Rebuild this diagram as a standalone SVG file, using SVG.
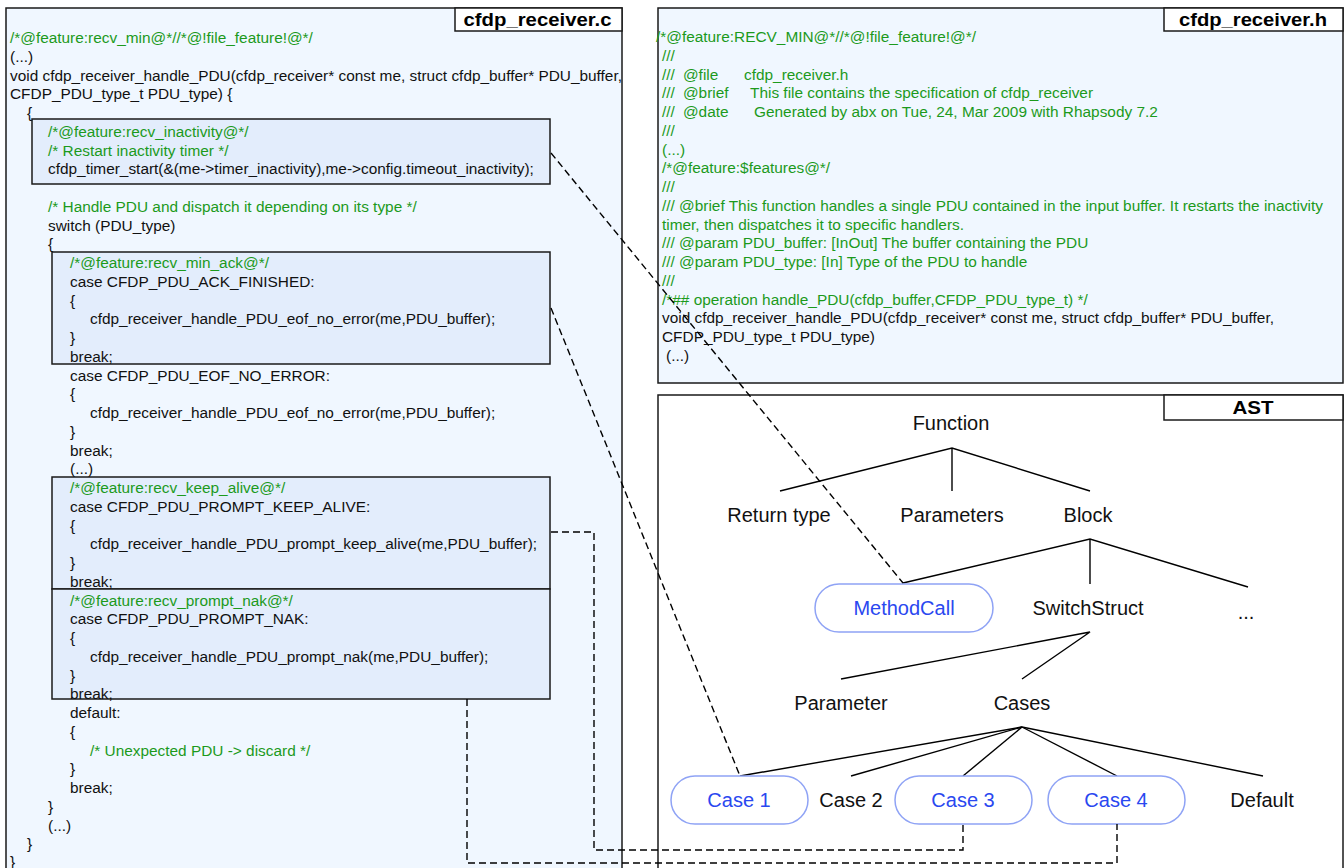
<svg xmlns="http://www.w3.org/2000/svg" width="1344" height="868" viewBox="0 0 1344 868">
  <style>
    .panel { fill: #F0F7FF; stroke: #1a1a1a; stroke-width: 1.5; }
    .ast { fill: #FFFFFF; stroke: #1a1a1a; stroke-width: 1.5; }
    .tab { fill: #FFFFFF; stroke: #1a1a1a; stroke-width: 1.5; }
    .blk { fill: #E3EDFC; stroke: #1a1a1a; stroke-width: 1.5; }
    .title { font-family: "Liberation Sans", Arial, Helvetica, sans-serif; font-weight: bold; font-size: 19px; fill: #000; text-anchor: middle; }
    .code { font-family: "Liberation Sans", Arial, Helvetica, sans-serif; font-size: 15.4px; fill: #111; }
    .cm { fill: #1C9A1C; }
    .lbl { font-family: "Liberation Sans", Arial, Helvetica, sans-serif; font-size: 20px; fill: #111; text-anchor: middle; }
    .pill { fill: #FFFFFF; stroke: #8FA3F5; stroke-width: 1.5; }
    .pilltxt { fill: #2A48F0; }
    .edge { fill: none; stroke: #000; stroke-width: 1.4; }
    .link { fill: none; stroke: #000; stroke-width: 1.4; stroke-dasharray: 7 4; }
  </style>

  <!-- Source file panel -->
  <g id="file-c">
    <rect class="panel" x="6" y="8" width="616" height="880"/>
    <rect class="tab" x="455" y="8" width="167" height="23"/>
    <text class="title" x="537.5" y="26" textLength="148" lengthAdjust="spacingAndGlyphs">cfdp_receiver.c</text>
  </g>

  <g id="block-inactivity"><rect class="blk" x="32" y="119" width="518" height="65"/></g>
  <g id="block-ack"><rect class="blk" x="52" y="252" width="498" height="112"/></g>
  <g id="block-keep-alive"><rect class="blk" x="52" y="477" width="498" height="112"/></g>
  <g id="block-nak"><rect class="blk" x="52" y="589" width="498" height="110"/></g>

  <g id="code-c" class="code">
    <text class="cm" x="10" y="43">/*@feature:recv_min@*//*@!file_feature!@*/</text>
    <text x="10" y="61.75">(...)</text>
    <text x="10" y="80.5">void cfdp_receiver_handle_PDU(cfdp_receiver* const me, struct cfdp_buffer* PDU_buffer,</text>
    <text x="10" y="99.25">CFDP_PDU_type_t PDU_type) {</text>
    <text x="27" y="118">{</text>
    <text class="cm" x="48" y="136.75">/*@feature:recv_inactivity@*/</text>
    <text class="cm" x="48" y="155.5">/* Restart inactivity timer */</text>
    <text x="48" y="174.25">cfdp_timer_start(&amp;(me-&gt;timer_inactivity),me-&gt;config.timeout_inactivity);</text>
    <text class="cm" x="48" y="211.75">/* Handle PDU and dispatch it depending on its type */</text>
    <text x="48" y="230.5">switch (PDU_type)</text>
    <text x="48" y="249.25">{</text>
    <text class="cm" x="70" y="268">/*@feature:recv_min_ack@*/</text>
    <text x="70" y="286.75">case CFDP_PDU_ACK_FINISHED:</text>
    <text x="70" y="305.5">{</text>
    <text x="90" y="324.25">cfdp_receiver_handle_PDU_eof_no_error(me,PDU_buffer);</text>
    <text x="70" y="343">}</text>
    <text x="70" y="361.75">break;</text>
    <text x="70" y="380.5">case CFDP_PDU_EOF_NO_ERROR:</text>
    <text x="70" y="399.25">{</text>
    <text x="90" y="418">cfdp_receiver_handle_PDU_eof_no_error(me,PDU_buffer);</text>
    <text x="70" y="436.75">}</text>
    <text x="70" y="455.5">break;</text>
    <text x="70" y="474.25">(...)</text>
    <text class="cm" x="70" y="493">/*@feature:recv_keep_alive@*/</text>
    <text x="70" y="511.75">case CFDP_PDU_PROMPT_KEEP_ALIVE:</text>
    <text x="70" y="530.5">{</text>
    <text x="90" y="549.25">cfdp_receiver_handle_PDU_prompt_keep_alive(me,PDU_buffer);</text>
    <text x="70" y="568">}</text>
    <text x="70" y="586.75">break;</text>
    <text class="cm" x="70" y="605.5">/*@feature:recv_prompt_nak@*/</text>
    <text x="70" y="624.25">case CFDP_PDU_PROMPT_NAK:</text>
    <text x="70" y="643">{</text>
    <text x="90" y="661.75">cfdp_receiver_handle_PDU_prompt_nak(me,PDU_buffer);</text>
    <text x="70" y="680.5">}</text>
    <text x="70" y="699.25">break;</text>
    <text x="70" y="718">default:</text>
    <text x="70" y="736.75">{</text>
    <text class="cm" x="90" y="755.5">/* Unexpected PDU -&gt; discard */</text>
    <text x="70" y="774.25">}</text>
    <text x="70" y="793">break;</text>
    <text x="48" y="811.75">}</text>
    <text x="48" y="830.5">(...)</text>
    <text x="27" y="849.25">}</text>
    <text x="10" y="867">}</text>
  </g>

  <!-- Header file panel -->
  <g id="file-h">
    <rect class="panel" x="658" y="8" width="685" height="375"/>
    <rect class="tab" x="1164" y="8" width="179" height="23"/>
    <text class="title" x="1253" y="26" textLength="148" lengthAdjust="spacingAndGlyphs">cfdp_receiver.h</text>
    <g class="code">
      <text class="cm" x="656" y="42">/*@feature:RECV_MIN@*//*@!file_feature!@*/</text>
      <text class="cm" x="662" y="60.75">///</text>
      <text class="cm" x="662" y="79.5">///</text>
      <text class="cm" x="683" y="79.5">@file</text>
      <text class="cm" x="744" y="79.5">cfdp_receiver.h</text>
      <text class="cm" x="662" y="98.25">///</text>
      <text class="cm" x="683" y="98.25">@brief</text>
      <text class="cm" x="750" y="98.25">This file contains the specification of cfdp_receiver</text>
      <text class="cm" x="662" y="117">///</text>
      <text class="cm" x="683" y="117">@date</text>
      <text class="cm" x="754" y="117">Generated by abx on Tue, 24, Mar 2009 with Rhapsody 7.2</text>
      <text class="cm" x="662" y="135.75">///</text>
      <text class="cm" x="662" y="154.5">(...)</text>
      <text class="cm" x="662" y="173.25">/*@feature:$features@*/</text>
      <text class="cm" x="662" y="192">///</text>
      <text class="cm" x="662" y="210.75">/// @brief This function handles a single PDU contained in the input buffer. It restarts the inactivity</text>
      <text class="cm" x="662" y="229.5">timer, then dispatches it to specific handlers.</text>
      <text class="cm" x="662" y="248.25">/// @param PDU_buffer: [InOut] The buffer containing the PDU</text>
      <text class="cm" x="662" y="267">/// @param PDU_type: [In] Type of the PDU to handle</text>
      <text class="cm" x="662" y="285.75">///</text>
      <text class="cm" x="662" y="304.5">/*## operation handle_PDU(cfdp_buffer,CFDP_PDU_type_t) */</text>
      <text x="662" y="323.25">void cfdp_receiver_handle_PDU(cfdp_receiver* const me, struct cfdp_buffer* PDU_buffer,</text>
      <text x="662" y="342">CFDP_PDU_type_t PDU_type)</text>
      <text x="666" y="360.75">(...)</text>
    </g>
  </g>

  <!-- Syntax tree panel -->
  <g id="ast-panel">
    <rect class="ast" x="658" y="395" width="685" height="493"/>
    <rect class="tab" x="1164" y="395" width="179" height="25"/>
    <text class="title" x="1253" y="414" textLength="41" lengthAdjust="spacingAndGlyphs">AST</text>
  </g>

  <!-- Tree edges -->
  <g id="tree-edges" class="edge">
    <polyline points="780,491 952,448 1090,491"/>
    <line x1="952" y1="448" x2="952" y2="491"/>
    <polyline points="903,583 1090,539 1248,587"/>
    <line x1="1090" y1="539" x2="1090" y2="584"/>
    <polyline points="841,679 1090,632 1022,679"/>
    <line x1="1022" y1="727" x2="740" y2="776"/>
    <line x1="1022" y1="727" x2="851" y2="776"/>
    <line x1="1022" y1="727" x2="963" y2="776"/>
    <line x1="1022" y1="727" x2="1117" y2="776"/>
    <line x1="1022" y1="727" x2="1263" y2="776"/>
  </g>

  <g id="node-function"><text class="lbl" x="951" y="430">Function</text></g>
  <g id="node-return-type"><text class="lbl" x="779" y="522">Return type</text></g>
  <g id="node-parameters"><text class="lbl" x="952" y="522">Parameters</text></g>
  <g id="node-block"><text class="lbl" x="1088" y="522">Block</text></g>
  <g id="node-methodcall">
    <rect class="pill" x="815" y="584" width="178" height="48" rx="24"/>
    <text class="lbl pilltxt" x="904" y="615">MethodCall</text>
  </g>
  <g id="node-switchstruct"><text class="lbl" x="1088" y="615">SwitchStruct</text></g>
  <g id="node-more"><text class="lbl" x="1246" y="619">...</text></g>
  <g id="node-parameter"><text class="lbl" x="841" y="710">Parameter</text></g>
  <g id="node-cases"><text class="lbl" x="1022" y="710">Cases</text></g>
  <g id="node-case1">
    <rect class="pill" x="671" y="776" width="137" height="48" rx="24"/>
    <text class="lbl pilltxt" x="739" y="807">Case 1</text>
  </g>
  <g id="node-case2"><text class="lbl" x="851" y="807">Case 2</text></g>
  <g id="node-case3">
    <rect class="pill" x="895" y="776" width="137" height="48" rx="24"/>
    <text class="lbl pilltxt" x="963" y="807">Case 3</text>
  </g>
  <g id="node-case4">
    <rect class="pill" x="1048" y="776" width="137" height="48" rx="24"/>
    <text class="lbl pilltxt" x="1116" y="807">Case 4</text>
  </g>
  <g id="node-default"><text class="lbl" x="1262" y="807">Default</text></g>

  <!-- Trace links from code blocks to tree nodes -->
  <g id="connectors" class="link">
    <line x1="551" y1="153" x2="903" y2="583"/>
    <line x1="551" y1="308" x2="740" y2="776"/>
    <polyline points="551,532 594,532 594,850 963,850 963,824"/>
    <polyline points="467,699 467,863 1117,863 1117,824"/>
  </g>
</svg>
